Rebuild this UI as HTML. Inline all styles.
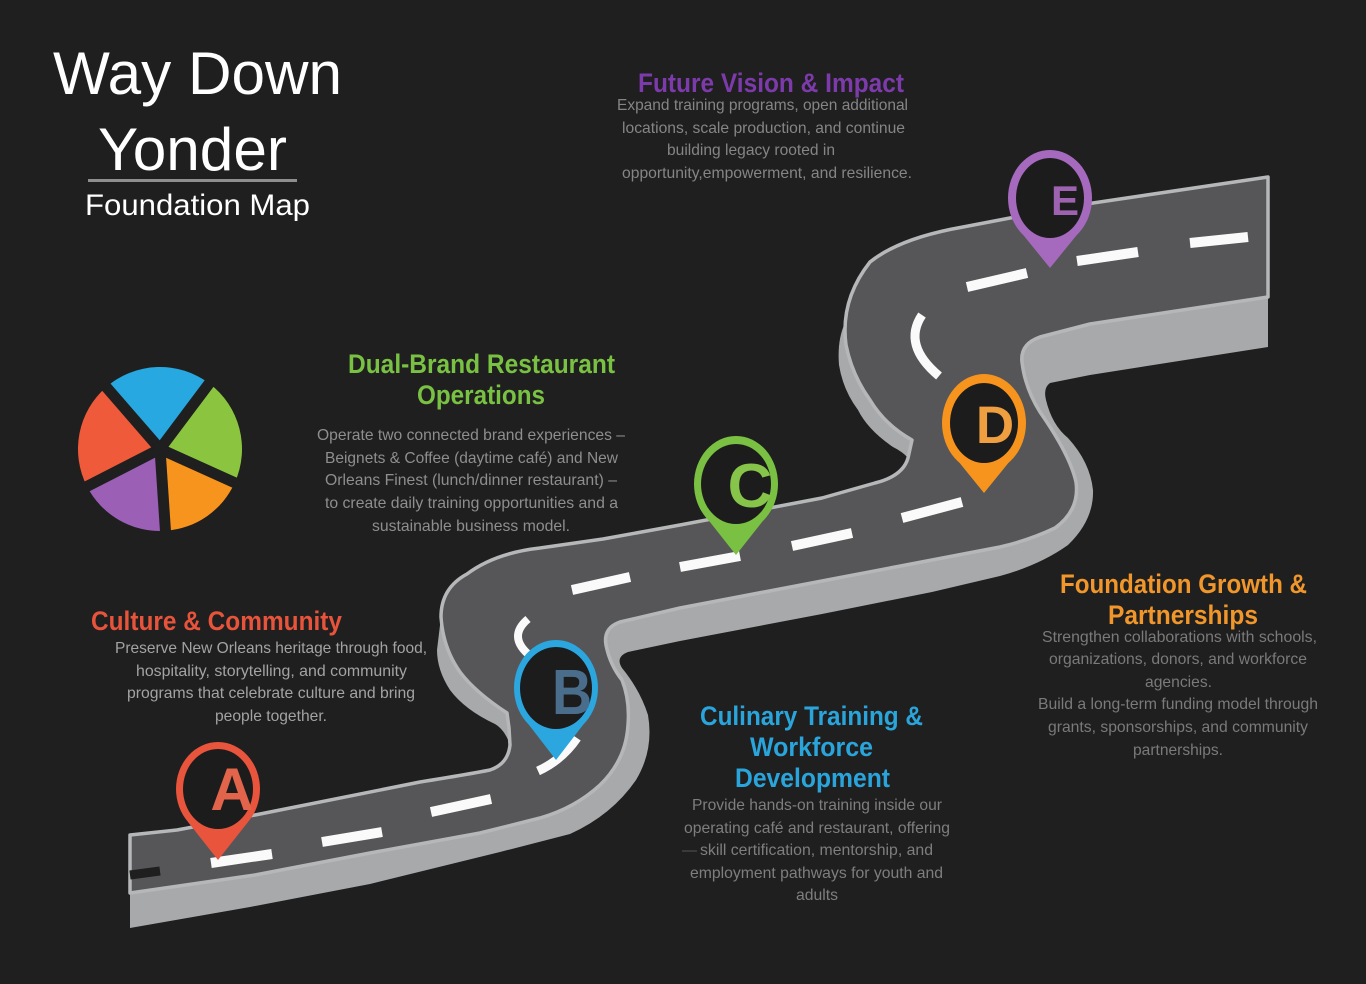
<!DOCTYPE html>
<html><head><meta charset="utf-8">
<style>
html,body{margin:0;padding:0;background:#1f1f1f;}
svg{display:block;}
text{font-family:"Liberation Sans",Arial,sans-serif;}
.h{font-weight:bold;font-size:27px;}
.b{font-size:16px;}
.pl{font-weight:bold;}
</style></head><body>
<svg width="1366" height="984" viewBox="0 0 1366 984" xmlns="http://www.w3.org/2000/svg">
<rect width="1366" height="984" fill="#1f1f1f"/>

<!-- Title -->
<text x="53" y="94" font-size="60" fill="#ffffff" textLength="289" lengthAdjust="spacingAndGlyphs">Way Down</text>
<text x="98" y="170" font-size="60" fill="#ffffff" textLength="189" lengthAdjust="spacingAndGlyphs">Yonder</text>
<rect x="88" y="179" width="209" height="3" fill="#8e8e8e"/>
<text x="85" y="215" font-size="30" fill="#ffffff" textLength="225" lengthAdjust="spacingAndGlyphs">Foundation Map</text>

<!-- Pie -->
<g>
<path d="M160,449 L86.9,486.2 A82,82 0 0 1 106.2,387.1 Z" fill="#ef5a3a"/>
<path d="M160,449 L106.2,387.1 A82,82 0 0 1 209.3,383.5 Z" fill="#27a8e0"/>
<path d="M160,449 L209.3,383.5 A82,82 0 0 1 234.9,482.4 Z" fill="#8bc53f"/>
<path d="M160,449 L234.9,482.4 A82,82 0 0 1 165.7,530.8 Z" fill="#f7941d"/>
<path d="M160,449 L165.7,530.8 A82,82 0 0 1 86.9,486.2 Z" fill="#9b5fb5"/>
<g stroke="#1f1f1f" stroke-width="11" stroke-linecap="butt">
<line x1="160" y1="449" x2="101" y2="381"/>
<line x1="160" y1="449" x2="214" y2="377"/>
<line x1="160" y1="449" x2="242" y2="486"/>
<line x1="160" y1="449" x2="166" y2="539"/>
<line x1="160" y1="449" x2="80" y2="490"/>
</g>
<circle cx="160" cy="449" r="7" fill="#1f1f1f"/>
</g>

<!-- Future Vision -->
<text class="h" x="638" y="92" fill="#7c3aab" font-size="26" textLength="266" lengthAdjust="spacingAndGlyphs">Future Vision &amp; Impact</text>
<g class="b" fill="#858585">
<text x="617" y="110" textLength="291" lengthAdjust="spacingAndGlyphs">Expand training programs, open additional</text>
<text x="622" y="133" textLength="283" lengthAdjust="spacingAndGlyphs">locations, scale production, and continue</text>
<text x="667" y="155" textLength="168" lengthAdjust="spacingAndGlyphs">building legacy rooted in</text>
<text x="622" y="178" textLength="290" lengthAdjust="spacingAndGlyphs">opportunity,empowerment, and resilience.</text>
</g>

<!-- Dual-Brand -->
<text class="h" x="348" y="373" fill="#79c143" textLength="267" lengthAdjust="spacingAndGlyphs">Dual-Brand Restaurant</text>
<text class="h" x="417" y="404" fill="#79c143" textLength="128" lengthAdjust="spacingAndGlyphs">Operations</text>
<g class="b" fill="#8e8e8e">
<text x="317" y="440" textLength="308" lengthAdjust="spacingAndGlyphs">Operate two connected brand experiences –</text>
<text x="325" y="463" textLength="293" lengthAdjust="spacingAndGlyphs">Beignets &amp; Coffee (daytime café) and New</text>
<text x="325" y="485" textLength="292" lengthAdjust="spacingAndGlyphs">Orleans Finest (lunch/dinner restaurant) –</text>
<text x="325" y="508" textLength="293" lengthAdjust="spacingAndGlyphs">to create daily training opportunities and a</text>
<text x="372" y="531" textLength="198" lengthAdjust="spacingAndGlyphs">sustainable business model.</text>
</g>

<!-- Culture -->
<text class="h" x="91" y="630" fill="#e8533b" textLength="251" lengthAdjust="spacingAndGlyphs">Culture &amp; Community</text>
<g class="b" fill="#a3a3a3">
<text x="115" y="653" textLength="312" lengthAdjust="spacingAndGlyphs">Preserve New Orleans heritage through food,</text>
<text x="136" y="676" textLength="271" lengthAdjust="spacingAndGlyphs">hospitality, storytelling, and community</text>
<text x="127" y="698" textLength="288" lengthAdjust="spacingAndGlyphs">programs that celebrate culture and bring</text>
<text x="215" y="721" textLength="112" lengthAdjust="spacingAndGlyphs">people together.</text>
</g>

<!-- Culinary -->
<text class="h" x="700" y="725" fill="#2aa5dc" textLength="223" lengthAdjust="spacingAndGlyphs">Culinary Training &amp;</text>
<text class="h" x="750" y="756" fill="#2aa5dc" textLength="123" lengthAdjust="spacingAndGlyphs">Workforce</text>
<text class="h" x="735" y="787" fill="#2aa5dc" textLength="155" lengthAdjust="spacingAndGlyphs">Development</text>
<line x1="682" y1="851" x2="697" y2="851" stroke="#555" stroke-width="1"/>
<g class="b" fill="#7e7e7e">
<text x="692" y="810" textLength="250" lengthAdjust="spacingAndGlyphs">Provide hands-on training inside our</text>
<text x="684" y="833" textLength="266" lengthAdjust="spacingAndGlyphs">operating café and restaurant, offering</text>
<text x="700" y="855" textLength="233" lengthAdjust="spacingAndGlyphs">skill certification, mentorship, and</text>
<text x="690" y="878" textLength="253" lengthAdjust="spacingAndGlyphs">employment pathways for youth and</text>
<text x="796" y="900" textLength="42" lengthAdjust="spacingAndGlyphs">adults</text>
</g>

<!-- Foundation Growth -->
<text class="h" x="1060" y="593" fill="#f0962a" textLength="247" lengthAdjust="spacingAndGlyphs">Foundation Growth &amp;</text>
<text class="h" x="1108" y="624" fill="#f0962a" textLength="150" lengthAdjust="spacingAndGlyphs">Partnerships</text>
<g class="b" fill="#7a7a7a">
<text x="1042" y="642" textLength="275" lengthAdjust="spacingAndGlyphs">Strengthen collaborations with schools,</text>
<text x="1049" y="664" textLength="258" lengthAdjust="spacingAndGlyphs">organizations, donors, and workforce</text>
<text x="1145" y="687" textLength="67" lengthAdjust="spacingAndGlyphs">agencies.</text>
<text x="1038" y="709" textLength="280" lengthAdjust="spacingAndGlyphs">Build a long-term funding model through</text>
<text x="1048" y="732" textLength="260" lengthAdjust="spacingAndGlyphs">grants, sponsorships, and community</text>
<text x="1133" y="755" textLength="90" lengthAdjust="spacingAndGlyphs">partnerships.</text>
</g>

<!-- Road walls (silhouette) -->
<path fill="#a7a9ab" d="M130,835 L177,830 Q215,823 255,815 L420,782 Q470,774 490,770 Q508,764 510,745 Q505,730 495,724 Q465,710 450,690 Q437,670 437,650 L441,617 Q441,588 467,574 Q495,553 540,548 L603,539 L680,525 L822,498 L875,483 Q903,476 908,458 Q903,452 893,447 Q868,430 858,410 Q843,390 839,365 Q837,340 845,323 Q847.5,290.5 870,262 Q900,238 963,227 L1010,218 L1093,203 L1268,177 L1268,347 L1090,375 L1050,383 Q1043,388 1046,400 Q1052,425 1068,438 Q1090,462 1093,490 Q1094,520 1068,545 Q1040,565 1000,576 L932,592 L822,614 L680,641 L628,652 Q615,657 622,668 Q640,690 648,715 Q654,750 636,780 Q612,815 570,834 L500,852 L370,884 L250,907 L130,928 Z"/>

<!-- Road top surface -->
<path fill="#565658" stroke="#b5b7b9" stroke-width="3.5" stroke-linejoin="round" d="M130,835 L177,830 Q215,823 255,815 L420,782 Q470,774 490,770 Q508,764 510,745 L509,728 L507,713 Q475,692 460,672 Q443,648 441,617 Q441,588 467,574 Q495,553 540,548 L603,539 L680,525 L822,498 L875,483 Q903,476 908,458 L912,440 Q885,425 870,400 Q852,375 846,345 Q840,300 870,262 Q900,238 963,227 L1010,218 L1093,203 L1268,177 L1268,297 L1090,324 L1040,337 Q1020,344 1022,362 Q1025,388 1040,412 Q1070,455 1076,482 Q1080,510 1055,528 Q1030,540 1000,547 L932,560 L822,581 L680,608 L620,622 Q603,628 606,645 Q610,665 622,680 Q630,700 628,725 Q626,760 600,785 Q575,808 540,818 L480,833 L370,853 L255,875 L130,893 Z"/>

<!-- Dashes -->
<g stroke="#fafafa" stroke-width="10" fill="none" stroke-linecap="butt">
<line x1="211" y1="863" x2="272" y2="854"/>
<line x1="322" y1="842" x2="382" y2="832"/>
<line x1="431" y1="812" x2="491" y2="799"/>
<line x1="572" y1="590" x2="630" y2="577"/>
<line x1="680" y1="567" x2="740" y2="556"/>
<line x1="792" y1="546" x2="852" y2="533"/>
<line x1="902" y1="518" x2="962" y2="502"/>
<line x1="967" y1="287" x2="1027" y2="273"/>
<line x1="1077" y1="261" x2="1138" y2="252"/>
<line x1="1190" y1="243" x2="1248" y2="237"/>
<path d="M538,771 Q562,760 577,738" stroke-width="9"/>
<path d="M528,619 Q508,636 528,654" stroke-width="8"/>
<path d="M922,315 Q902,345 939,376" stroke-width="9"/>
</g>
<line x1="130" y1="875" x2="160" y2="871" stroke="#1f1f1f" stroke-width="9"/>

<!-- Pins -->
<g transform="translate(218,789)">
<path d="M-30,33 L0,71 L30,33 Z" fill="#e8543c"/>
<ellipse rx="42" ry="47" fill="#e8543c"/>
<ellipse rx="35" ry="40" fill="#1c1c1c"/>
<text class="pl" x="14" y="21" font-size="60" fill="#e2644a" text-anchor="middle">A</text>
</g>
<g transform="translate(556,688)">
<path d="M-30,33 L0,72 L30,33 Z" fill="#2ba6de"/>
<ellipse rx="42" ry="48" fill="#2ba6de"/>
<ellipse rx="36" ry="41" fill="#1c1c1c"/>
<text class="pl" x="16" y="26" font-size="64" fill="#4a6d8c" text-anchor="middle" textLength="40" lengthAdjust="spacingAndGlyphs">B</text>
</g>
<g transform="translate(736,484)">
<path d="M-30,33 L0,71 L30,33 Z" fill="#7ac143"/>
<ellipse rx="42" ry="48" fill="#7ac143"/>
<ellipse rx="35" ry="40" fill="#1c1c1c"/>
<text class="pl" x="14" y="23" font-size="62" fill="#86c44a" text-anchor="middle">C</text>
</g>
<g transform="translate(984,423)">
<path d="M-30,33 L0,70 L30,33 Z" fill="#f7941d"/>
<ellipse rx="42" ry="49" fill="#f7941d"/>
<ellipse rx="34" ry="40" fill="#1c1c1c"/>
<text class="pl" x="11" y="20" font-size="53" fill="#ef9e40" text-anchor="middle">D</text>
</g>
<g transform="translate(1050,198)">
<path d="M-30,33 L0,70 L30,33 Z" fill="#a569bd"/>
<ellipse rx="42" ry="48" fill="#a569bd"/>
<ellipse rx="34" ry="40" fill="#1c1c1c"/>
<text class="pl" x="15" y="17" font-size="42" fill="#9d62b0" text-anchor="middle">E</text>
</g>
</svg>
</body></html>
